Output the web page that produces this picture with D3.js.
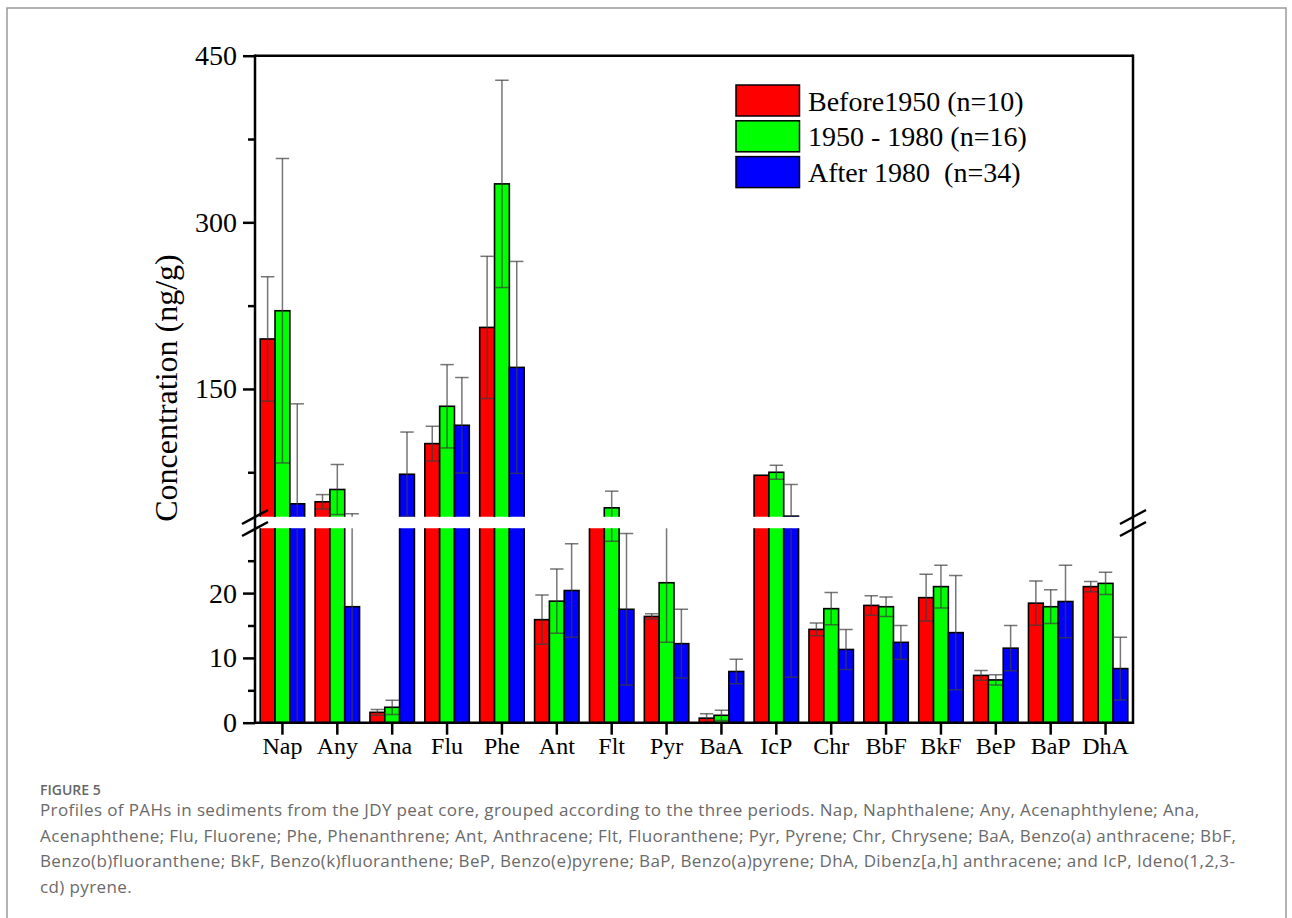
<!DOCTYPE html>
<html>
<head>
<meta charset="utf-8">
<script src="https://cdn.jsdelivr.net/npm/d3@7"></script>
<style>
  body { margin: 0; background: #fff; }
  text { white-space: pre; }
</style>
</head>
<body>
<svg id="chart" width="1292" height="918"></svg>
<script>
// PAH profiles, three periods (ng/g)
var categories = ["Nap", "Any", "Ana", "Flu", "Phe", "Ant", "Flt", "Pyr", "BaA", "IcP", "Chr", "BbF", "BkF", "BeP", "BaP", "DhA"];
var seriesNames = ["before", "mid", "after"];
var legendLabels = ["Before1950 (n=10)", "1950 - 1980 (n=16)", "After 1980  (n=34)"];
var colors = ["#ff0000", "#00ff00", "#0000ff"];

var beforeMean = [195, 48.4, 1.6, 100.8, 205.4, 15.9, 33, 16.4, 0.7, 72.3, 14.4, 18.1, 19.3, 7.3, 18.45, 21.0];
var beforeSd   = [56, 6.5, 0.45, 15.6, 64, 3.8, 1.0, 0.4, 0.7, 0, 1.0, 1.5, 3.6, 0.75, 3.4, 0.8];
var midMean    = [220.4, 59.5, 2.38, 134.4, 334.6, 18.76, 43, 21.6, 1.14, 75, 17.6, 17.9, 21.0, 6.6, 17.9, 21.5];
var midSd      = [137, 22.5, 1.1, 37.5, 93.3, 4.95, 15, 9.2, 0.8, 6.3, 2.5, 1.5, 3.3, 0.8, 2.6, 1.7];
var afterMean  = [46.6, 17.9, 73.2, 117.3, 169.4, 20.4, 17.5, 12.2, 7.9, 35.5, 11.3, 12.4, 13.9, 11.5, 18.7, 8.35];
var afterSd    = [90, 19.7, 38, 43, 95.4, 7.2, 11.7, 5.3, 1.9, 28.5, 3.1, 2.6, 8.8, 3.5, 5.6, 4.85];

var upperTicks = [150, 300, 450];
var upperMinor = [75, 225, 375];
var lowerTicks = [0, 10, 20];
var lowerMinor = [5, 15, 25];

var captionHead = "FIGURE 5";
var captionLines = [
  "Profiles of PAHs in sediments from the JDY peat core, grouped according to the three periods. Nap, Naphthalene; Any, Acenaphthylene; Ana,",
  "Acenaphthene; Flu, Fluorene; Phe, Phenanthrene; Ant, Anthracene; Flt, Fluoranthene; Pyr, Pyrene; Chr, Chrysene; BaA, Benzo(a) anthracene; BbF,",
  "Benzo(b)fluoranthene; BkF, Benzo(k)fluoranthene; BeP, Benzo(e)pyrene; BaP, Benzo(a)pyrene; DhA, Dibenz[a,h] anthracene; and IcP, Ideno(1,2,3-",
  "cd) pyrene."
];

var means = [beforeMean, midMean, afterMean];
var sds = [beforeSd, midSd, afterSd];

var svg = d3.select("#chart");
var serif = "'Liberation Serif', 'Times New Roman', serif";

// outer figure frame
svg.append("rect")
  .attr("x", 7).attr("y", 8).attr("width", 1279).attr("height", 930)
  .attr("fill", "none").attr("stroke", "#9a9a9a").attr("stroke-width", 1.5);

var plotL = 255, plotR = 1133, plotT = 55.7, plotB = 722.7;
var upBot = 516.7, lowTop = 528.3;

var x0 = d3.scaleBand().domain(categories).range([plotL, plotR]).paddingInner(0.19).paddingOuter(0.095);
var x1 = d3.scaleBand().domain(seriesNames).range([0, x0.bandwidth()]);
var yUp = d3.scaleLinear().domain([35, 450]).range([upBot, plotT]);
var yLow = d3.scaleLinear().domain([0, 30]).range([plotB, lowTop]);

var defs = svg.append("defs");
defs.append("clipPath").attr("id", "clipUp").append("rect")
  .attr("x", plotL).attr("y", plotT).attr("width", plotR - plotL).attr("height", upBot - plotT);
defs.append("clipPath").attr("id", "clipLow").append("rect")
  .attr("x", plotL).attr("y", lowTop).attr("width", plotR - plotL).attr("height", plotB - lowTop);

var rows = [];
categories.forEach(function(c, i) {
  seriesNames.forEach(function(s, j) {
    rows.push({cat: c, s: s, j: j, v: means[j][i], sd: sds[j][i]});
  });
});

function drawSegment(clipId, y, isUpper) {
  var g = svg.append("g").attr("clip-path", "url(#" + clipId + ")");
  g.selectAll("rect.bar")
    .data(rows.filter(function(d) { return isUpper ? d.v > 35 : true; }))
    .enter().append("rect")
    .attr("class", "bar")
    .attr("x", function(d) { return x0(d.cat) + x1(d.s); })
    .attr("width", x1.bandwidth())
    .attr("y", function(d) { return isUpper ? y(d.v) : y(Math.min(d.v, 31)); })
    .attr("height", function(d) {
      return isUpper ? (upBot + 6 - y(d.v)) : (plotB - y(Math.min(d.v, 31)));
    })
    .attr("fill", function(d) { return colors[d.j]; })
    .attr("stroke", "#000").attr("stroke-width", 1.6);

  var eb = g.selectAll("g.err")
    .data(rows.filter(function(d) { return d.sd > 0; }))
    .enter().append("g").attr("class", "err")
    .attr("stroke", "#3c3c3c").attr("stroke-opacity", 0.7).attr("stroke-width", 1.5);
  eb.append("line")
    .attr("x1", function(d) { return x0(d.cat) + x1(d.s) + x1.bandwidth() / 2; })
    .attr("x2", function(d) { return x0(d.cat) + x1(d.s) + x1.bandwidth() / 2; })
    .attr("y1", function(d) { return y(d.v - d.sd); })
    .attr("y2", function(d) { return y(d.v + d.sd); });
  [1, -1].forEach(function(sign) {
    eb.append("line")
      .attr("x1", function(d) { return x0(d.cat) + x1(d.s) + x1.bandwidth() / 2 - 6.7; })
      .attr("x2", function(d) { return x0(d.cat) + x1(d.s) + x1.bandwidth() / 2 + 6.7; })
      .attr("y1", function(d) { return y(d.v + sign * d.sd); })
      .attr("y2", function(d) { return y(d.v + sign * d.sd); });
  });
}
drawSegment("clipUp", yUp, true);
drawSegment("clipLow", yLow, false);

// axes
function styleAxis(g) {
  g.select(".domain").remove();
  g.selectAll(".tick line").attr("stroke", "#000").attr("stroke-width", 2.5);
  g.selectAll(".tick text").attr("fill", "#000").style("font-family", serif);
}
svg.append("g").attr("transform", "translate(" + plotL + ",0)")
  .call(d3.axisLeft(yUp).tickValues(upperTicks).tickSize(12).tickPadding(6).tickFormat(d3.format("d")))
  .call(styleAxis).selectAll("text").style("font-size", "28px");
svg.append("g").attr("transform", "translate(" + plotL + ",0)")
  .call(d3.axisLeft(yUp).tickValues(upperMinor).tickSize(7).tickFormat(""))
  .call(styleAxis);
svg.append("g").attr("transform", "translate(" + plotL + ",0)")
  .call(d3.axisLeft(yLow).tickValues(lowerTicks).tickSize(12).tickPadding(6).tickFormat(d3.format("d")))
  .call(styleAxis).selectAll("text").style("font-size", "28px");
svg.append("g").attr("transform", "translate(" + plotL + ",0)")
  .call(d3.axisLeft(yLow).tickValues(lowerMinor).tickSize(7).tickFormat(""))
  .call(styleAxis);
svg.append("g").attr("transform", "translate(0," + plotB + ")")
  .call(d3.axisBottom(x0).tickSize(12).tickPadding(2))
  .call(styleAxis).selectAll("text").style("font-size", "24px");

var frame = svg.append("g").attr("stroke", "#000").attr("stroke-width", 2.5).attr("fill", "none");
frame.append("line").attr("x1", plotL).attr("x2", plotL).attr("y1", plotT - 1.2).attr("y2", plotB + 1.2);
frame.append("line").attr("x1", plotR).attr("x2", plotR).attr("y1", plotT - 1.2).attr("y2", plotB + 1.2);
frame.append("line").attr("x1", plotL).attr("x2", plotR).attr("y1", plotT).attr("y2", plotT);
frame.append("line").attr("x1", plotL).attr("x2", plotR).attr("y1", plotB).attr("y2", plotB);

// break marks
[plotL, plotR].forEach(function(ax) {
  [0, 12].forEach(function(off) {
    frame.append("line")
      .attr("x1", ax - 13).attr("y1", 524 + off)
      .attr("x2", ax + 13).attr("y2", 510 + off);
  });
});

// y title
svg.append("text")
  .attr("transform", "translate(177,388) rotate(-90)")
  .attr("text-anchor", "middle")
  .style("font-family", serif).style("font-size", "32px")
  .text("Concentration (ng/g)");

// legend
var leg = svg.append("g").attr("transform", "translate(736,85)");
var li = leg.selectAll("g").data(legendLabels).enter().append("g")
  .attr("transform", function(d, i) { return "translate(0," + (i * 35.8) + ")"; });
li.append("rect").attr("width", 63.5).attr("height", 31)
  .attr("fill", function(d, i) { return colors[i]; })
  .attr("stroke", "#000").attr("stroke-width", 1.5);
li.append("text").attr("x", 72).attr("y", 25.5)
  .style("font-family", serif).style("font-size", "28px")
  .text(function(d) { return d; });

// caption
svg.append("text").attr("x", 40).attr("y", 795)
  .style("font-family", "'Open Sans', sans-serif").style("font-size", "14px")
  .style("font-weight", 600).attr("fill", "#666")
  .text(captionHead);
svg.selectAll("text.cap").data(captionLines).enter().append("text")
  .attr("class", "cap")
  .attr("x", 40).attr("y", function(d, i) { return 816 + i * 25.7; })
  .style("font-family", "'Open Sans', sans-serif").style("font-size", "17px")
  .style("letter-spacing", "0.38px")
  .attr("fill", "#6a6a6a")
  .text(function(d) { return d; });
</script>
</body>
</html>
